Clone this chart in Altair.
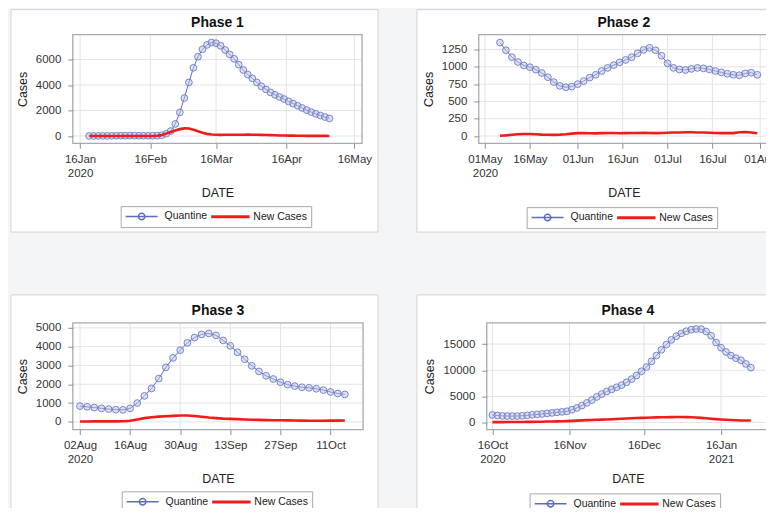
import altair as alt
import pandas as pd

# ---------------- data (every 2 days) ----------------
SERIES = ["Quantine", "New Cases"]

p1_start = "2020-01-20"
p1_quantine = [3, 5, 8, 10, 12, 15, 20, 22, 25, 28, 25, 22, 20, 18, 18, 25,
               60, 180, 390, 950, 1850, 2980, 4200, 5350, 6220, 6800, 7150, 7330,
               7280, 7080, 6750, 6400, 6050, 5600, 5180, 4820, 4520, 4200, 3900,
               3650, 3420, 3230, 3060, 2900, 2720, 2540, 2370, 2200, 2030, 1880,
               1740, 1610, 1490, 1380]
p1_new = [0, 1, 2, 3, 4, 4, 3, 2, 2, 1, 1, 2, 1, 1, 5,
          15, 70, 190, 320, 440, 540, 600, 590, 500, 380, 260, 170, 120, 95, 90,
          95, 100, 105, 100, 105, 110, 100, 95, 90, 80, 70, 55, 45, 35, 30, 28,
          25, 22, 15, 12, 10, 10, 8, 5]

p2_start = "2020-05-06"
p2_quantine = [1350, 1240, 1140, 1070, 1020, 995, 960, 910, 850, 780, 725, 705,
               715, 750, 795, 845, 885, 940, 985, 1025, 1065, 1100, 1140, 1195,
               1245, 1275, 1240, 1160, 1050, 985, 962, 955, 970, 985, 978, 963,
               940, 920, 900, 885, 878, 905, 915, 885]
p2_new = [5, 10, 18, 25, 30, 30, 25, 20, 18, 17, 20, 25, 35, 42, 45, 40, 38, 42,
          45, 43, 40, 42, 45, 45, 48, 45, 42, 45, 48, 50, 52, 55, 55, 52, 50, 48,
          45, 42, 45, 42, 55, 58, 52, 40]

p3_start = "2020-08-02"
p3_quantine = [840, 800, 760, 720, 680, 650, 640, 720, 1000, 1380, 1780, 2300,
               2900, 3400, 3810, 4200, 4480, 4650, 4700, 4600, 4330, 4040, 3700,
               3330, 2980, 2680, 2450, 2280, 2110, 1980, 1900, 1840, 1810, 1760,
               1690, 1590, 1510, 1460]
p3_new = [20, 22, 25, 25, 25, 28, 35, 60, 130, 200, 250, 280, 300, 320, 340, 335,
          310, 270, 230, 200, 175, 160, 145, 130, 115, 105, 95, 90, 85, 78, 70,
          65, 60, 60, 62, 65, 68, 70]

p4_start = "2020-10-16"
p4_quantine = [1450, 1350, 1280, 1250, 1240, 1250, 1300, 1380, 1480, 1560, 1650,
               1750, 1850, 1950, 2050, 2160, 2450, 2800, 3250, 3760, 4300, 4900,
               5450, 5950, 6350, 6750, 7150, 7700, 8300, 9000, 9800, 10600, 11700,
               12800, 13900, 14900, 15800, 16500, 17050, 17450, 17750, 17880,
               17850, 17400, 16600, 15300, 14300, 13500, 12800, 12300, 11900,
               11200, 10500]
p4_new = [80, 90, 90, 100, 110, 110, 120, 130, 140, 150, 170, 190, 210, 230, 250,
          280, 320, 370, 420, 460, 500, 530, 560, 600, 640, 680, 720, 770, 820,
          870, 900, 930, 960, 990, 1010, 1030, 1040, 1050, 1050, 1040, 1010, 970,
          900, 820, 740, 660, 600, 540, 480, 440, 410, 390, 380]

p1_xticks = ["2020-01-16", "2020-02-16", "2020-03-16", "2020-04-16", "2020-05-16"]
p2_xticks = ["2020-05-01", "2020-05-16", "2020-06-01", "2020-06-16", "2020-07-01",
             "2020-07-16", "2020-08-01"]
p3_xticks = ["2020-08-02", "2020-08-16", "2020-08-30", "2020-09-13", "2020-09-27",
             "2020-10-11"]
p4_xticks = ["2020-10-16", "2020-11-16", "2020-12-16", "2021-01-16"]

p1_yticks = [0, 2000, 4000, 6000]
p2_yticks = [0, 250, 500, 750, 1000, 1250]
p3_yticks = [0, 1000, 2000, 3000, 4000, 5000]
p4_yticks = [0, 5000, 10000, 15000]

# ---------------- helpers ----------------
FONT = "Liberation Sans"
BLUE_LINE = "#5d6cbf"
BLUE_PT = "#6a79c4"
RED = "#f01c1c"

PATH_Q = ("M-3.2,0L3.2,0 M-0.65,0 A0.65,0.65 0 1,0 0.65,0 "
          "A0.65,0.65 0 1,0 -0.65,0")
PATH_N = "M-3.7,-0.15L3.7,-0.15L3.7,0.15L-3.7,0.15Z"


def ms(s, h=0):
    return int((pd.Timestamp(s, tz="UTC") + pd.Timedelta(hours=h)).value // 10**6)


def panel(title, start, q, nc, xdom, xticks, ydom, yticks, W, H, box, legxy):
    dates = pd.date_range(start, periods=len(q), freq="2D").strftime("%Y-%m-%d").tolist()
    df = pd.DataFrame({
        "date": dates + dates,
        "value": q + nc,
        "series": ["Quantine"] * len(q) + ["New Cases"] * len(nc),
    })
    xs = alt.Scale(type="utc", domain=[ms(*xdom[0]), ms(*xdom[1])])
    ys = alt.Scale(domain=ydom, nice=False, zero=False)
    cs = alt.Scale(domain=SERIES, range=[BLUE_LINE, RED])
    ss = alt.Scale(domain=SERIES, range=[PATH_Q, PATH_N])
    leg = alt.Legend(
        title=None, orient="none", legendX=legxy[0], legendY=legxy[1],
        direction="horizontal", symbolSize=100, symbolStrokeWidth=1.5,
        symbolOffset=11, labelOffset=17, columnPadding=1, padding=4,
        strokeColor="#a9a9a9", fillColor="white", symbolOpacity=1,
        labelFont=FONT, labelFontSize=10.5, labelColor="#222",
    )
    xaxis = alt.Axis(
        values=[ms(t) for t in xticks], title="DATE", grid=False, domain=False,
        tickSize=5, tickColor="#8f8f8f", labelFont=FONT, labelFontSize=11.5,
        labelColor="#333", labelPadding=5, labelLineHeight=14.5, labelAngle=0,
        titleFont=FONT, titleFontSize=12.5, titleFontWeight="normal",
        titleColor="#222", titlePadding=7, zindex=1,
        labelExpr=("[utcFormat(datum.value, '%d%b'), "
                   "(time(datum.value) == " + str(ms(xticks[0])) +
                   " || utcmonth(datum.value) == 0) ? "
                   "utcFormat(datum.value, '%Y') : '']"),
    )
    yaxis = alt.Axis(
        values=yticks, format="d", title="Cases", grid=False, domain=False,
        tickSize=5, tickColor="#8f8f8f", labelFont=FONT, labelFontSize=11.5,
        labelColor="#333", labelPadding=7, titleFont=FONT, titleFontSize=12.5,
        titleFontWeight="normal", titleColor="#222", titlePadding=6, zindex=1,
    )
    left, right, top, bottom = box
    one = alt.Data(values=[{}])

    box_rect = alt.Chart(one).mark_rect(
        fill="white", stroke="#cfd3d8", strokeWidth=1
    ).encode(x=alt.value(-left), x2=alt.value(W + right),
             y=alt.value(-top), y2=alt.value(H + bottom))

    title_text = alt.Chart(one).mark_text(
        font=FONT, fontSize=14, fontWeight="bold", color="#111",
        align="center", baseline="alphabetic"
    ).encode(x=alt.value(W / 2), y=alt.value(-8), text=alt.value(title))

    ygrid = alt.Chart(pd.DataFrame({"value": yticks})).mark_rule(
        color="#e4e4e4", strokeWidth=1
    ).encode(y=alt.Y("value:Q", scale=ys, axis=yaxis),
             x=alt.value(0), x2=alt.value(W))

    xgrid = alt.Chart(pd.DataFrame({"date": xticks})).mark_rule(
        color="#e4e4e4", strokeWidth=1
    ).encode(x=alt.X("date:T", scale=xs, axis=xaxis),
             y=alt.value(0), y2=alt.value(H))

    frame = alt.Chart(one).mark_rect(
        fill="transparent", stroke="#a3abb4", strokeWidth=1.3
    ).encode(x=alt.value(0), x2=alt.value(W), y=alt.value(0), y2=alt.value(H))

    base = alt.Chart(df)
    X = alt.X("date:T", scale=xs, axis=xaxis)
    Y = alt.Y("value:Q", scale=ys, axis=yaxis)

    qline = base.transform_filter("datum.series == 'Quantine'").mark_line(
        strokeWidth=1
    ).encode(x=X, y=Y, color=alt.Color("series:N", scale=cs, legend=leg))
    qpts = base.transform_filter("datum.series == 'Quantine'").mark_point(
        shape="circle", filled=True, size=46, fill="#bcc3e8", fillOpacity=0.55,
        stroke=BLUE_PT, strokeWidth=1, opacity=0.9
    ).encode(x=X, y=Y)
    nline = base.transform_filter("datum.series == 'New Cases'").mark_line(
        strokeWidth=2.6
    ).encode(x=X, y=Y, color=alt.Color("series:N", scale=cs, legend=leg))
    legend_layer = base.transform_filter("false").mark_point(filled=False).encode(
        x=X, y=Y,
        color=alt.Color("series:N", scale=cs, legend=leg),
        shape=alt.Shape("series:N", scale=ss, legend=leg),
    )

    return alt.layer(box_rect, title_text, ygrid, xgrid, frame, qline, qpts,
                     nline, legend_layer).properties(width=W, height=H)


p1 = panel("Phase 1", p1_start, p1_quantine, p1_new,
           (("2020-01-12", 19), ("2020-05-19", 10)), p1_xticks,
           [-571, 7955], p1_yticks, 290, 109, (62, 16, 25, 89), (48, 172))
p2 = panel("Phase 2", p2_start, p2_quantine, p2_new,
           (("2020-04-28", 22), ("2020-08-03", 22)), p2_xticks,
           [-105, 1466], p2_yticks, 291, 109, (62, 12, 25, 89), (48, 173))
p3 = panel("Phase 3", p3_start, p3_quantine, p3_new,
           (("2020-07-31", 0), ("2020-10-20", 2)), p3_xticks,
           [-408, 5265], p3_yticks, 291, 107, (62, 15, 28, 95), (49, 169))
p4 = panel("Phase 4", p4_start, p4_quantine, p4_new,
           (("2020-10-13", 17), ("2021-02-04", 7)), p4_xticks,
           [-1334, 19060], p4_yticks, 283, 107, (70, 12, 28, 95), (43, 171))


def indep(c):
    return c.resolve_scale(color="independent", shape="independent"
                           ).resolve_legend(color="independent", shape="independent")


row1 = indep(alt.hconcat(p1, p2, spacing=37))
row2 = indep(alt.hconcat(p3, p4, spacing=37))
chart = indep(alt.vconcat(row1, row2, spacing=61)).properties(
    background="#f4f5f7",
    padding={"left": 2, "top": 0, "right": -16, "bottom": -18},
).configure(font=FONT).configure_view(stroke="transparent")

chart.save("out.html", embed_options={"renderer": "svg", "actions": False})
